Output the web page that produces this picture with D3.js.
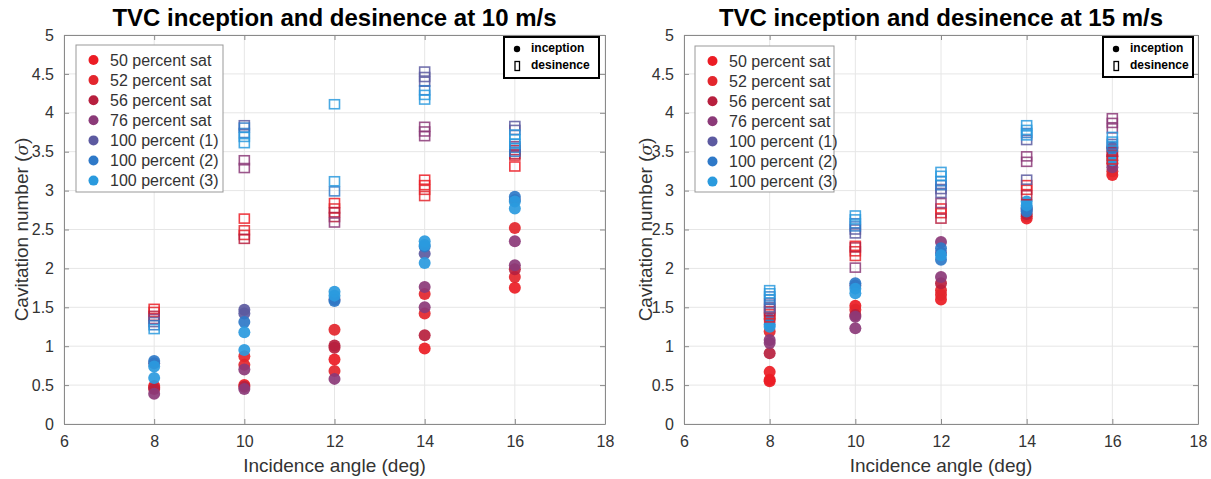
<!DOCTYPE html>
<html><head><meta charset="utf-8">
<script src="https://cdn.jsdelivr.net/npm/d3@7"></script>
<style>
html,body{margin:0;padding:0;background:#fff;}
svg text{font-family:"Liberation Sans", Arial, sans-serif;}
</style></head>
<body><svg id="c" width="1211" height="479"></svg>
<script>
// ---------- data ----------
const angles = [8, 10, 12, 14, 16];
const seriesNames = ["50 percent sat","52 percent sat","56 percent sat","76 percent sat","100 percent (1)","100 percent (2)","100 percent (3)"];
const xTicks = [6, 8, 10, 12, 14, 16, 18];
const yTicks = [0, 0.5, 1, 1.5, 2, 2.5, 3, 3.5, 4, 4.5, 5];
const titles = ["TVC inception and desinence at 10 m/s", "TVC inception and desinence at 15 m/s"];

// 10 m/s inception (per angle, list of values)
const inc10_50   = [[0.49],[0.50],[0.83],[0.97],[1.75]];
const inc10_52   = [[0.47],[0.87,0.76],[1.21,0.68],[1.67,1.42],[2.52,1.89]];
const inc10_56   = [[0.45],[0.48],[1.01,0.98],[1.14],[1.99]];
const inc10_76   = [[0.39],[0.70,0.45],[0.58],[1.76,1.50],[2.35,2.04]];
const inc10_100a = [[0.78],[1.47,1.42],[1.60],[2.19],[2.88]];
const inc10_100b = [[0.81],[1.31],[1.58],[2.28],[2.92]];
const inc10_100c = [[0.74,0.59],[1.18,0.95],[1.70,1.65],[2.35,2.30,2.07],[2.86,2.77]];
// 10 m/s desinence
const des10_50   = [[1.48],[2.64],[2.84],[3.14,3.07],[3.31]];
const des10_52   = [[1.44],[2.49,2.43],[2.77],[3.01,2.93],[3.45]];
const des10_56   = [[1.39],[2.38],[2.72,2.66],[],[3.52,3.47]];
const des10_76   = [[1.35],[3.39,3.29],[2.59],[3.82,3.76,3.70],[3.57]];
const des10_100a = [[1.31],[3.84],[],[4.53,4.46,4.40],[3.83,3.78]];
const des10_100b = [[1.27],[3.81,3.74],[2.99],[4.29],[3.55,3.50]];
const des10_100c = [[1.22],[3.69,3.61],[4.11,3.12],[4.23,4.17],[3.72,3.66,3.60]];
// 15 m/s inception
const inc15_50   = [[0.67,0.57,0.55],[1.52],[1.60],[2.64],[3.20]];
const inc15_52   = [[1.19],[1.47],[1.72,1.66],[2.67],[3.25]];
const inc15_56   = [[0.91],[1.40],[1.81],[2.70],[3.35]];
const inc15_76   = [[1.08,1.04],[1.38,1.23],[2.34,1.89],[2.75],[3.30]];
const inc15_100a = [[1.35],[1.78],[2.20],[2.78],[3.55]];
const inc15_100b = [[1.28],[1.81],[2.26,2.11],[2.77,2.73],[3.44]];
const inc15_100c = [[1.25],[1.74,1.68],[2.17],[2.86,2.81],[3.39]];
// 15 m/s desinence
const des15_50   = [[1.37],[2.29],[2.77],[3.07],[3.40]];
const des15_52   = [[1.41],[2.22,2.16],[2.71],[3.01],[3.45]];
const des15_56   = [[1.45],[2.27],[2.64],[2.94],[3.50]];
const des15_76   = [[1.48],[2.01],[2.84],[3.44,3.37],[3.93,3.87,3.80]];
const des15_100a = [[1.55,1.50],[2.50,2.45],[3.02,2.97],[3.65,3.14],[3.60]];
const des15_100b = [[1.64,1.60],[2.58,2.54],[3.12,3.07],[3.74],[3.56]];
const des15_100c = [[1.72,1.68],[2.68,2.63],[3.24,3.19],[3.84,3.78,3.71],[3.69,3.63]];

// ---------- styles ----------
const colors = ["#ec1c24","#e3262d","#b71f3e","#8b3a78","#5c5aa0","#2e79c8","#2a9ade"];
const gridColor = "#e6e6e6", axisColor = "#8a8a8a", textColor = "#333";

const panels = [
  {title: titles[0], inc:[inc10_50,inc10_52,inc10_56,inc10_76,inc10_100a,inc10_100b,inc10_100c],
   des:[des10_50,des10_52,des10_56,des10_76,des10_100a,des10_100b,des10_100c],
   x0:64, x1:605, yB:424, yT:35, ylabX:22, leg:{x:76,y:45,w:147,h:147}, box:{x:504,y:37,w:95,h:41}},
  {title: titles[1], inc:[inc15_50,inc15_52,inc15_56,inc15_76,inc15_100a,inc15_100b,inc15_100c],
   des:[des15_50,des15_52,des15_56,des15_76,des15_100a,des15_100b,des15_100c],
   x0:684, x1:1198, yB:424, yT:35, ylabX:646, leg:{x:695,y:46,w:139,h:146}, box:{x:1103,y:37,w:90,h:40}}
];

const svg = d3.select("#c");

panels.forEach(p => {
  const g = svg.append("g");
  const x = d3.scaleLinear().domain([6,18]).range([p.x0, p.x1]);
  const y = d3.scaleLinear().domain([0,5]).range([p.yB, p.yT]);

  // grid
  g.append("g").selectAll("line").data(xTicks).join("line")
    .attr("x1", d=>x(d)).attr("x2", d=>x(d)).attr("y1", p.yT).attr("y2", p.yB)
    .attr("stroke", gridColor).attr("stroke-width", 1);
  g.append("g").selectAll("line").data(yTicks).join("line")
    .attr("y1", d=>y(d)).attr("y2", d=>y(d)).attr("x1", p.x0).attr("x2", p.x1)
    .attr("stroke", gridColor).attr("stroke-width", 1);

  // axes (inner ticks, all four sides)
  const ax = (gen, tx) => g.append("g").attr("transform", tx).call(gen)
     .call(s => s.select(".domain").attr("stroke", axisColor))
     .call(s => s.selectAll(".tick line").attr("stroke", axisColor));
  const bottom = ax(d3.axisBottom(x).tickValues(xTicks).tickSizeInner(-5).tickSizeOuter(0).tickPadding(12), `translate(0,${p.yB})`);
  bottom.selectAll("text").attr("font-size", 16).attr("fill", textColor).attr("font-family","Liberation Sans, Arial");
  const left = ax(d3.axisLeft(y).tickValues(yTicks).tickSizeInner(-5).tickSizeOuter(0).tickPadding(10).tickFormat(d3.format("")), `translate(${p.x0},0)`);
  left.selectAll("text").attr("font-size", 16).attr("fill", textColor).attr("font-family","Liberation Sans, Arial");
  const top = ax(d3.axisTop(x).tickValues(xTicks).tickSizeInner(-5).tickSizeOuter(0).tickFormat(""), `translate(0,${p.yT})`);
  const right = ax(d3.axisRight(y).tickValues(yTicks).tickSizeInner(-5).tickSizeOuter(0).tickFormat(""), `translate(${p.x1},0)`);

  // points
  const flat = (arrs) => arrs.flatMap((s, si) => s.flatMap((vals, ai) => vals.map(v => ({si, a: angles[ai], v}))));
  const dots = flat(p.inc), squares = flat(p.des);
  g.append("g").selectAll("circle").data(dots).join("circle")
    .attr("cx", d=>x(d.a)).attr("cy", d=>y(d.v)).attr("r", 6)
    .attr("fill", d=>colors[d.si]).attr("fill-opacity", 0.92);
  g.append("g").selectAll("rect").data(squares).join("rect")
    .attr("x", d=>x(d.a)-5).attr("y", d=>y(d.v)-4.5).attr("width", 10).attr("height", 9)
    .attr("fill", "none").attr("stroke", d=>colors[d.si]).attr("stroke-width", 1.6).attr("stroke-opacity", 0.85);

  // title & labels
  svg.append("text").attr("x", (p.x0+p.x1)/2).attr("y", 26).attr("text-anchor","middle")
    .attr("font-size", 24).attr("font-weight","bold").attr("fill","#000").text(p.title);
  svg.append("text").attr("x", (p.x0+p.x1)/2).attr("y", 472).attr("text-anchor","middle")
    .attr("font-size", 19).attr("fill", textColor).text("Incidence angle (deg)");
  const yl = svg.append("text").attr("transform", `translate(${p.ylabX+6},${(p.yT+p.yB)/2}) rotate(-90)`)
    .attr("text-anchor","middle").attr("font-size", 19).attr("fill", textColor);
  yl.append("tspan").text("Cavitation number (");
  yl.append("tspan").attr("font-style","italic").attr("font-family","DejaVu Serif, serif").attr("font-size",17).text("σ");
  yl.append("tspan").text(")");

  // legend
  const L = p.leg;
  const lg = svg.append("g");
  lg.append("rect").attr("x", L.x).attr("y", L.y).attr("width", L.w).attr("height", L.h)
    .attr("fill","#fff").attr("stroke","#999").attr("stroke-width",1);
  seriesNames.forEach((n, i) => {
    const cy = L.y + 15 + i*20.1;
    lg.append("circle").attr("cx", L.x+17.5).attr("cy", cy).attr("r", 5).attr("fill", colors[i]);
    lg.append("text").attr("x", L.x+34).attr("y", cy+5.5).attr("font-size", 16).attr("fill", textColor).text(n);
  });

  // inception / desinence box
  const B = p.box;
  const bg = svg.append("g");
  bg.append("rect").attr("x", B.x).attr("y", B.y).attr("width", B.w).attr("height", B.h)
    .attr("fill","#fff").attr("stroke","#000").attr("stroke-width",2);
  bg.append("circle").attr("cx", B.x+13).attr("cy", B.y+12).attr("r", 3.2).attr("fill","#000");
  bg.append("rect").attr("x", B.x+11).attr("y", B.y+24.5).attr("width", 4.5).attr("height", 9)
    .attr("fill","none").attr("stroke","#000").attr("stroke-width",1.3);
  bg.append("text").attr("x", B.x+27).attr("y", B.y+15).attr("font-size", 12).attr("font-weight","bold")
    .attr("font-family","Lato, 'Open Sans', sans-serif").attr("fill","#000").text("inception");
  bg.append("text").attr("x", B.x+27).attr("y", B.y+32).attr("font-size", 12).attr("font-weight","bold")
    .attr("font-family","Lato, 'Open Sans', sans-serif").attr("fill","#000").text("desinence");
});
</script></body></html>
